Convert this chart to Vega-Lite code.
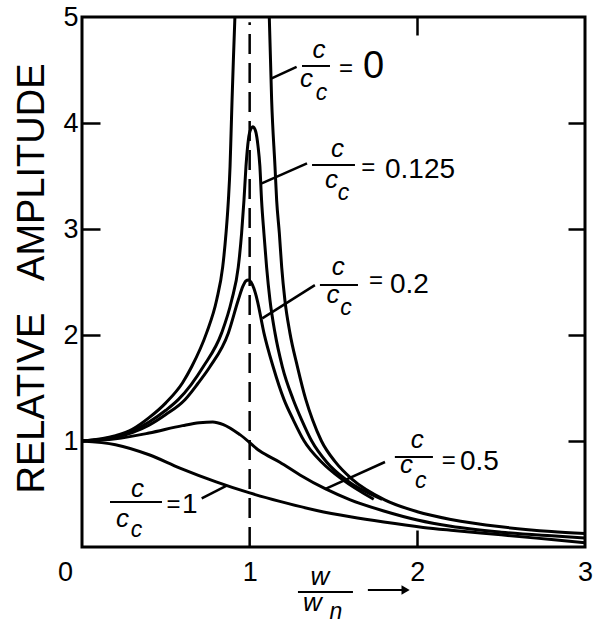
{
  "$schema": "https://vega.github.io/schema/vega-lite/v6.json",
  "width": 503,
  "height": 530,
  "autosize": {"type": "none"},
  "padding": {"left": 82, "top": 17, "right": 9, "bottom": 79},
  "background": "white",
  "config": {"view": {"stroke": "black", "strokeWidth": 3}, "font": "Liberation Sans"},
  "resolve": {"axis": {"x": "independent", "y": "independent"}},
  "datasets": {
    "curves": [
      {"s": "0L", "x": 0, "y": 1.0}, {"s": "0L", "x": 0.2, "y": 1.05}, {"s": "0L", "x": 0.3, "y": 1.11}, {"s": "0L", "x": 0.4, "y": 1.22}, {"s": "0L", "x": 0.5, "y": 1.36}, {"s": "0L", "x": 0.6, "y": 1.55}, {"s": "0L", "x": 0.654, "y": 1.7}, {"s": "0L", "x": 0.743, "y": 2.02}, {"s": "0L", "x": 0.803, "y": 2.33}, {"s": "0L", "x": 0.839, "y": 2.64}, {"s": "0L", "x": 0.859, "y": 2.96}, {"s": "0L", "x": 0.873, "y": 3.27}, {"s": "0L", "x": 0.883, "y": 3.59}, {"s": "0L", "x": 0.889, "y": 3.9}, {"s": "0L", "x": 0.895, "y": 4.22}, {"s": "0L", "x": 0.903, "y": 4.6}, {"s": "0L", "x": 0.912, "y": 5.0},
      {"s": "0R", "x": 1.117, "y": 5.0}, {"s": "0R", "x": 1.131, "y": 4.22}, {"s": "0R", "x": 1.151, "y": 3.59}, {"s": "0R", "x": 1.161, "y": 3.27}, {"s": "0R", "x": 1.177, "y": 2.96}, {"s": "0R", "x": 1.191, "y": 2.64}, {"s": "0R", "x": 1.21, "y": 2.33}, {"s": "0R", "x": 1.24, "y": 2.02}, {"s": "0R", "x": 1.285, "y": 1.7}, {"s": "0R", "x": 1.335, "y": 1.39}, {"s": "0R", "x": 1.375, "y": 1.2}, {"s": "0R", "x": 1.428, "y": 1.0}, {"s": "0R", "x": 1.512, "y": 0.8}, {"s": "0R", "x": 1.61, "y": 0.64}, {"s": "0R", "x": 1.805, "y": 0.445}, {"s": "0R", "x": 2.0, "y": 0.333}, {"s": "0R", "x": 2.2, "y": 0.26}, {"s": "0R", "x": 2.5, "y": 0.19}, {"s": "0R", "x": 2.8, "y": 0.146}, {"s": "0R", "x": 3.0, "y": 0.127},
      {"s": "a", "x": 0, "y": 1.0}, {"s": "a", "x": 0.2, "y": 1.04}, {"s": "a", "x": 0.3, "y": 1.095}, {"s": "a", "x": 0.4, "y": 1.18}, {"s": "a", "x": 0.5, "y": 1.29}, {"s": "a", "x": 0.574, "y": 1.39}, {"s": "a", "x": 0.65, "y": 1.53}, {"s": "a", "x": 0.723, "y": 1.7}, {"s": "a", "x": 0.833, "y": 2.02}, {"s": "a", "x": 0.893, "y": 2.33}, {"s": "a", "x": 0.932, "y": 2.64}, {"s": "a", "x": 0.952, "y": 2.96}, {"s": "a", "x": 0.966, "y": 3.27}, {"s": "a", "x": 0.978, "y": 3.59}, {"s": "a", "x": 0.993, "y": 3.85}, {"s": "a", "x": 1.006, "y": 3.94}, {"s": "a", "x": 1.02, "y": 3.965}, {"s": "a", "x": 1.036, "y": 3.92}, {"s": "a", "x": 1.05, "y": 3.78}, {"s": "a", "x": 1.061, "y": 3.59}, {"s": "a", "x": 1.071, "y": 3.27}, {"s": "a", "x": 1.085, "y": 2.96}, {"s": "a", "x": 1.101, "y": 2.64}, {"s": "a", "x": 1.121, "y": 2.33}, {"s": "a", "x": 1.151, "y": 2.02}, {"s": "a", "x": 1.195, "y": 1.7}, {"s": "a", "x": 1.26, "y": 1.39}, {"s": "a", "x": 1.31, "y": 1.2}, {"s": "a", "x": 1.37, "y": 1.0}, {"s": "a", "x": 1.46, "y": 0.8}, {"s": "a", "x": 1.57, "y": 0.64}, {"s": "a", "x": 1.79, "y": 0.45},
      {"s": "b", "x": 0, "y": 1.0}, {"s": "b", "x": 0.2, "y": 1.035}, {"s": "b", "x": 0.3, "y": 1.08}, {"s": "b", "x": 0.4, "y": 1.15}, {"s": "b", "x": 0.5, "y": 1.25}, {"s": "b", "x": 0.614, "y": 1.39}, {"s": "b", "x": 0.69, "y": 1.54}, {"s": "b", "x": 0.763, "y": 1.7}, {"s": "b", "x": 0.873, "y": 2.02}, {"s": "b", "x": 0.932, "y": 2.33}, {"s": "b", "x": 0.96, "y": 2.46}, {"s": "b", "x": 0.978, "y": 2.51}, {"s": "b", "x": 0.992, "y": 2.52}, {"s": "b", "x": 1.008, "y": 2.5}, {"s": "b", "x": 1.025, "y": 2.44}, {"s": "b", "x": 1.045, "y": 2.33}, {"s": "b", "x": 1.085, "y": 2.02}, {"s": "b", "x": 1.14, "y": 1.7}, {"s": "b", "x": 1.205, "y": 1.39}, {"s": "b", "x": 1.26, "y": 1.2}, {"s": "b", "x": 1.325, "y": 1.0}, {"s": "b", "x": 1.43, "y": 0.8}, {"s": "b", "x": 1.55, "y": 0.64}, {"s": "b", "x": 1.74, "y": 0.45},
      {"s": "c", "x": 0, "y": 1.0}, {"s": "c", "x": 0.2, "y": 1.02}, {"s": "c", "x": 0.4, "y": 1.075}, {"s": "c", "x": 0.6, "y": 1.145}, {"s": "c", "x": 0.7, "y": 1.172}, {"s": "c", "x": 0.78, "y": 1.18}, {"s": "c", "x": 0.843, "y": 1.155}, {"s": "c", "x": 0.942, "y": 1.06}, {"s": "c", "x": 1.061, "y": 0.905}, {"s": "c", "x": 1.18, "y": 0.8}, {"s": "c", "x": 1.3, "y": 0.68}, {"s": "c", "x": 1.45, "y": 0.55}, {"s": "c", "x": 1.6, "y": 0.445}, {"s": "c", "x": 1.8, "y": 0.34}, {"s": "c", "x": 2.0, "y": 0.255}, {"s": "c", "x": 2.2, "y": 0.195}, {"s": "c", "x": 2.5, "y": 0.14}, {"s": "c", "x": 2.8, "y": 0.105}, {"s": "c", "x": 3.0, "y": 0.085},
      {"s": "d", "x": 0, "y": 1.0}, {"s": "d", "x": 0.2, "y": 0.965}, {"s": "d", "x": 0.4, "y": 0.87}, {"s": "d", "x": 0.584, "y": 0.745}, {"s": "d", "x": 0.8, "y": 0.615}, {"s": "d", "x": 1.0, "y": 0.51}, {"s": "d", "x": 1.18, "y": 0.43}, {"s": "d", "x": 1.4, "y": 0.345}, {"s": "d", "x": 1.6, "y": 0.285}, {"s": "d", "x": 1.8, "y": 0.235}, {"s": "d", "x": 2.035, "y": 0.185}, {"s": "d", "x": 2.2, "y": 0.158}, {"s": "d", "x": 2.5, "y": 0.115}, {"s": "d", "x": 2.8, "y": 0.07}, {"s": "d", "x": 3.0, "y": 0.04}
    ],
    "dash": [{"x": 1, "y": 0, "y2": 4.95}],
    "leaders": [
      {"x": 1.131, "y": 4.42, "x2": 1.28, "y2": 4.53},
      {"x": 1.072, "y": 3.43, "x2": 1.342, "y2": 3.62},
      {"x": 1.075, "y": 2.157, "x2": 1.389, "y2": 2.47},
      {"x": 1.807, "y": 0.802, "x2": 1.449, "y2": 0.545},
      {"x": 0.714, "y": 0.459, "x2": 0.863, "y2": 0.58}
    ],
    "bars": [
      {"x": 1.312, "x2": 1.479, "y": 4.538},
      {"x": 1.372, "x2": 1.628, "y": 3.604},
      {"x": 1.419, "x2": 1.646, "y": 2.472},
      {"x": 1.866, "x2": 2.093, "y": 0.849},
      {"x": 0.167, "x2": 0.477, "y": 0.425},
      {"x": 1.288, "x2": 1.616, "y": -0.425}
    ],
    "cs": [
      {"t": "c", "x": 1.413, "y": 4.613}, {"t": "c", "x": 1.339, "y": 4.34},
      {"t": "c", "x": 1.524, "y": 3.679}, {"t": "c", "x": 1.488, "y": 3.387},
      {"t": "c", "x": 1.529, "y": 2.566}, {"t": "c", "x": 1.497, "y": 2.3},
      {"t": "c", "x": 2.0, "y": 0.934}, {"t": "c", "x": 1.935, "y": 0.698},
      {"t": "c", "x": 0.331, "y": 0.472}, {"t": "c", "x": 0.2415, "y": 0.189},
      {"t": "w", "x": 1.419, "y": -0.358}, {"t": "w", "x": 1.374, "y": -0.6}
    ],
    "subs": [
      {"t": "c", "x": 1.428, "y": 4.217},
      {"t": "c", "x": 1.559, "y": 3.274},
      {"t": "c", "x": 1.574, "y": 2.19},
      {"t": "c", "x": 2.021, "y": 0.557},
      {"t": "c", "x": 0.325, "y": 0.094},
      {"t": "n", "x": 1.515, "y": -0.675}
    ],
    "eqs": [
      {"x": 1.574, "y": 4.514}, {"x": 1.708, "y": 3.58}, {"x": 1.753, "y": 2.51}, {"x": 2.188, "y": 0.811}, {"x": 0.546, "y": 0.396}
    ],
    "vals": [
      {"t": "0.125", "x": 1.807, "y": 3.481},
      {"t": "0.2", "x": 1.837, "y": 2.396},
      {"t": "0.5", "x": 2.254, "y": 0.726},
      {"t": "1", "x": 0.596, "y": 0.321}
    ],
    "bigval": [{"t": "0", "x": 1.676, "y": 4.425}],
    "arrow": [{"x": 1.705, "x2": 1.92, "y": -0.406}],
    "arrowhead": [{"x": 1.93, "y": -0.406}]
  },
  "layer": [
    {
      "data": {"name": "curves"},
      "mark": {"type": "line", "interpolate": "monotone", "color": "black", "strokeWidth": 3, "clip": true},
      "encoding": {
        "x": {"field": "x", "type": "quantitative", "scale": {"domain": [0, 3], "nice": false, "zero": false},
          "axis": {"orient": "bottom", "values": [0, 1, 2, 3], "domain": false, "grid": false, "title": null,
            "tickSize": -17, "tickWidth": 2.5, "tickColor": "black",
            "tickOpacity": {"condition": {"test": "datum.value == 2", "value": 1}, "value": 0},
            "labelFontSize": 27, "labelColor": "black", "labelPadding": 29, "labelFlush": false,
            "labelOffset": {"condition": {"test": "datum.value == 0", "value": -17}, "value": 0}}},
        "y": {"field": "y", "type": "quantitative", "scale": {"domain": [0, 5], "nice": false, "zero": false},
          "axis": {"orient": "left", "values": [1, 2, 3, 4, 5], "domain": false, "grid": false,
            "tickSize": -18, "tickWidth": 2.5, "tickColor": "black",
            "tickOpacity": {"condition": {"test": "datum.value >= 2 && datum.value <= 4", "value": 1}, "value": 0},
            "labelFontSize": 27, "labelColor": "black", "labelPadding": 22, "labelFlush": false,
            "title": "RELATIVE\u00a0\u00a0\u00a0AMPLITUDE", "titleFontSize": 38, "titleFontWeight": "normal", "titleColor": "black",
            "titleX": -39, "titleY": 261, "titleAngle": 270, "titleAlign": "center", "titleBaseline": "alphabetic"}},
        "detail": {"field": "s"}
      }
    },
    {
      "data": {"name": "dash"},
      "mark": {"type": "rule", "color": "black", "strokeWidth": 2.5, "strokeDash": [20, 9]},
      "encoding": {
        "x": {"field": "x", "type": "quantitative",
          "axis": {"orient": "top", "values": [2], "domain": false, "grid": false, "labels": false, "title": null,
            "tickSize": -18, "tickWidth": 2.5, "tickColor": "black"}},
        "y": {"field": "y", "type": "quantitative",
          "axis": {"orient": "right", "values": [1, 2, 3, 4], "domain": false, "grid": false, "labels": false, "title": null,
            "tickSize": -17, "tickWidth": 2.5, "tickColor": "black"}},
        "y2": {"field": "y2"}
      }
    },
    {
      "data": {"name": "leaders"},
      "mark": {"type": "rule", "color": "black", "strokeWidth": 2.5},
      "encoding": {
        "x": {"field": "x", "type": "quantitative", "axis": null},
        "y": {"field": "y", "type": "quantitative", "axis": null},
        "x2": {"field": "x2"}, "y2": {"field": "y2"}
      }
    },
    {
      "data": {"name": "bars"},
      "mark": {"type": "rule", "color": "black", "strokeWidth": 2},
      "encoding": {
        "x": {"field": "x", "type": "quantitative", "axis": null},
        "x2": {"field": "x2"},
        "y": {"field": "y", "type": "quantitative", "axis": null}
      }
    },
    {
      "data": {"name": "arrow"},
      "mark": {"type": "rule", "color": "black", "strokeWidth": 2},
      "encoding": {
        "x": {"field": "x", "type": "quantitative", "axis": null},
        "x2": {"field": "x2"},
        "y": {"field": "y", "type": "quantitative", "axis": null}
      }
    },
    {
      "data": {"name": "arrowhead"},
      "mark": {"type": "point", "shape": "triangle-right", "filled": true, "color": "black", "size": 90, "opacity": 1},
      "encoding": {
        "x": {"field": "x", "type": "quantitative", "axis": null},
        "y": {"field": "y", "type": "quantitative", "axis": null}
      }
    },
    {
      "data": {"name": "cs"},
      "mark": {"type": "text", "fontSize": 26, "fontStyle": "italic", "align": "center", "baseline": "alphabetic", "color": "black"},
      "encoding": {
        "x": {"field": "x", "type": "quantitative", "axis": null},
        "y": {"field": "y", "type": "quantitative", "axis": null},
        "text": {"field": "t"}
      }
    },
    {
      "data": {"name": "subs"},
      "mark": {"type": "text", "fontSize": 23, "fontStyle": "italic", "align": "center", "baseline": "alphabetic", "color": "black"},
      "encoding": {
        "x": {"field": "x", "type": "quantitative", "axis": null},
        "y": {"field": "y", "type": "quantitative", "axis": null},
        "text": {"field": "t"}
      }
    },
    {
      "data": {"name": "eqs"},
      "mark": {"type": "text", "fontSize": 24, "align": "center", "baseline": "middle", "color": "black", "text": "="},
      "encoding": {
        "x": {"field": "x", "type": "quantitative", "axis": null},
        "y": {"field": "y", "type": "quantitative", "axis": null}
      }
    },
    {
      "data": {"name": "vals"},
      "mark": {"type": "text", "fontSize": 28, "align": "left", "baseline": "alphabetic", "color": "black"},
      "encoding": {
        "x": {"field": "x", "type": "quantitative", "axis": null},
        "y": {"field": "y", "type": "quantitative", "axis": null},
        "text": {"field": "t"}
      }
    },
    {
      "data": {"name": "bigval"},
      "mark": {"type": "text", "fontSize": 38, "align": "left", "baseline": "alphabetic", "color": "black"},
      "encoding": {
        "x": {"field": "x", "type": "quantitative", "axis": null},
        "y": {"field": "y", "type": "quantitative", "axis": null},
        "text": {"field": "t"}
      }
    }
  ]
}
